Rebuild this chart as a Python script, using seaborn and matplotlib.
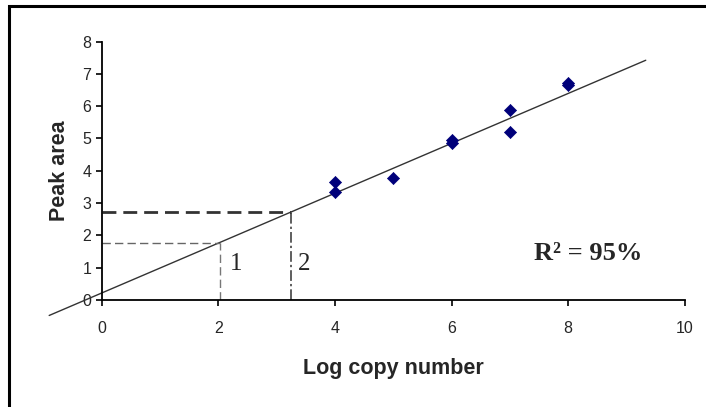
import matplotlib
matplotlib.use("Agg")
import matplotlib.pyplot as plt
import matplotlib.patches as patches
import seaborn as sns
import pandas as pd

# data
log_copy = [4, 4, 5, 6, 6, 7, 7, 8, 8]
peak_area = [3.66, 3.35, 3.77, 4.96, 4.86, 5.88, 5.19, 6.73, 6.65]

# fitted line end points
line_x = [-0.9, 9.33]
line_y = [-0.48, 7.42]

# read-off guides (x, y)
guide1 = (2.03, 1.77)
guide2 = (3.24, 2.71)

x_ticks = [0, 2, 4, 6, 8, 10]
y_ticks = [0, 1, 2, 3, 4, 5, 6, 7, 8]

df = pd.DataFrame({"Log copy number": log_copy, "Peak area": peak_area})

sns.set_style("ticks")
plt.rcParams["font.family"] = ["Liberation Sans", "DejaVu Sans"]

fig = plt.figure(figsize=(7.06, 4.07), dpi=100)
ax = fig.add_axes([0.144, 0.263, 0.826, 0.635])

# frame round the figure (runs off on right / bottom like the scan)
fig.patches.append(patches.Rectangle((0.013, -0.05), 1.2, 1.035, transform=fig.transFigure,
                                     fill=False, edgecolor="black", linewidth=2.2, clip_on=False))

# regression line, allowed to poke outside the axes
ax.plot(line_x, line_y, color="#333333", linewidth=1.0, clip_on=False, zorder=2)

# guides
gx, gy = guide1
ax.plot([0, gx], [gy, gy], color="#666666", linestyle=(0, (6, 3)), linewidth=1.0)
ax.plot([gx, gx], [0, gy], color="#777777", linestyle=(0, (6, 3)), linewidth=1.0)
gx, gy = guide2
ax.plot([0, gx], [gy, gy], color="#333333", linestyle=(0, (5, 2.5)), linewidth=2.0)
ax.plot([gx, gx], [0, gy], color="#333333", linestyle=(0, (7, 2, 1.5, 2)), linewidth=1.1)

sns.scatterplot(data=df, x="Log copy number", y="Peak area", ax=ax, marker="D",
                color="#00007a", s=38, edgecolor="#00007a", linewidth=0.5, zorder=3)

ax.text(2.3, 1.1, "1", fontsize=18, family="Liberation Serif", ha="center", va="center")
ax.text(3.48, 1.1, "2", fontsize=18, family="Liberation Serif", ha="center", va="center")
ax.text(8.34, 1.45, "R² = 95%", fontsize=19, family="Liberation Serif", fontweight="bold",
        ha="center", va="center")

ax.set_xlim(0, 10)
ax.set_ylim(0, 8)
ax.set_xticks(x_ticks)
ax.set_yticks(y_ticks)
ax.tick_params(axis="both", labelsize=11.5, length=4, width=1.2, color="black", direction="out")
ax.tick_params(axis="x", pad=11)
ax.set_xlabel("Log copy number", fontsize=15.5, fontweight="bold", labelpad=16)
ax.set_ylabel("Peak area", fontsize=15.5, fontweight="bold", labelpad=9)
sns.despine(ax=ax)
for s in ["left", "bottom"]:
    ax.spines[s].set_linewidth(1.3)
    ax.spines[s].set_color("black")

fig.savefig("out.png", dpi=100)
